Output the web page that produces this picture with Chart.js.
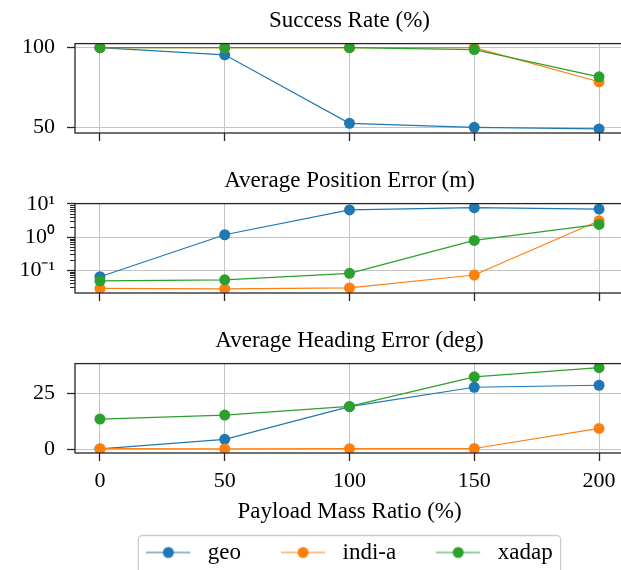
<!DOCTYPE html>
<html>
<head>
<meta charset="utf-8">
<script src="https://cdn.jsdelivr.net/npm/chart.js@4.4.1/dist/chart.umd.min.js"></script>
<style>
  html, body { margin: 0; background: #fff; }
  #wrap { position: relative; width: 621px; height: 570px; overflow: hidden; background: #fff; }
  .panel { position: absolute; left: 0; }
  canvas { display: block; }
</style>
</head>
<body>
<div id="wrap">
  <div class="panel" style="top:0"><canvas id="successChart" width="630" height="145"></canvas></div>
  <div class="panel" style="top:160px"><canvas id="positionChart" width="630" height="145"></canvas></div>
  <div class="panel" style="top:320px"><canvas id="headingChart" width="630" height="254"></canvas></div>
</div>
<script>
// payload mass ratio (%) on the shared x axis
const payloadRatios = [0, 50, 100, 150, 200];
const seriesNames = ["geo", "indi-a", "xadap"];
const seriesColors = ["#1f77b4", "#ff7f0e", "#2ca02c"];

// success rate (%)
const successGeo = [100, 95.5, 52.5, 50, 49];
const successIndi = [100, 100, 100, 100, 78.6];
const successXadap = [100, 100, 100, 98.8, 81.7];

// average position error (m), log axis
const positionGeo = [0.063, 1.17, 6.6, 7.7, 7.0];
const positionIndi = [0.028, 0.027, 0.029, 0.071, 3.1];
const positionXadap = [0.047, 0.051, 0.08, 0.79, 2.4];

// average heading error (deg)
const headingGeo = [0.2, 4.5, 19.2, 27.9, 28.8];
const headingIndi = [0.3, 0.2, 0.3, 0.4, 9.4];
const headingXadap = [13.6, 15.4, 19.3, 32.6, 36.7];

const xTicks = [0, 50, 100, 150, 200];
const successTicks = [50, 100];
const positionTicks = [0.1, 1, 10];
const positionTickLabels = ["10⁻¹", "10⁰", "10¹"];
const positionMinor = [0.01, 0.1, 1].flatMap((d) => [2, 3, 4, 5, 6, 7, 8, 9].map((k) => k * d));
const headingTicks = [0, 25];

const FONT = "'Liberation Serif', 'Times New Roman', serif";
const GRID = "#c4c4c4";
const SPINE = "#262626";

Chart.defaults.font.family = FONT;
Chart.defaults.font.size = 22;
Chart.defaults.color = "#000";

// matplotlib style 5% auto margins
function padRange(values, log) {
  const v = log ? values.map(Math.log10) : values;
  const lo = Math.min(...v);
  const hi = Math.max(...v);
  const m = (hi - lo) * 0.05;
  return log ? [10 ** (lo - m), 10 ** (hi + m)] : [lo - m, hi + m];
}

function makeDatasets(seriesList) {
  return seriesList.map((values, i) => ({
    label: seriesNames[i],
    data: payloadRatios.map((x, j) => ({ x, y: values[j] })),
    borderColor: seriesColors[i],
    backgroundColor: seriesColors[i],
    borderWidth: 1.2,
    pointRadius: 5.5,
    pointBorderWidth: 0,
    pointBackgroundColor: seriesColors[i],
    order: seriesList.length - i,
    tension: 0,
  }));
}

const xRange = padRange(payloadRatios);

function xScale(showLabels) {
  return {
    type: "linear",
    min: xRange[0],
    max: xRange[1],
    afterBuildTicks: (s) => {
      s.ticks = xTicks.map((v) => ({ value: v }));
    },
    afterFit: (s) => {
      s.height = showLabels ? 48 : 12;
    },
    grid: { color: GRID, lineWidth: 1, tickLength: 8, tickColor: SPINE, tickWidth: 1.3 },
    border: { display: false },
    ticks: { display: showLabels, padding: 7, maxRotation: 0, autoSkip: false },
    title: showLabels
      ? {
          display: true,
          text: "Payload Mass Ratio (%)",
          font: { size: 23 },
          padding: { top: 0, bottom: -25 },
        }
      : { display: false },
  };
}

function yScale(type, range, ticks, labels) {
  return {
    type,
    min: range[0],
    max: range[1],
    afterBuildTicks: (s) => {
      s.ticks = ticks.map((v) => ({ value: v }));
    },
    afterFit: (s) => {
      s.width = 75;
      s.paddingTop = 0;
      s.paddingBottom = 0;
    },
    grid: { color: GRID, lineWidth: 1, tickLength: 8, tickColor: SPINE, tickWidth: 1.3 },
    border: { display: false },
    ticks: {
      padding: 12,
      autoSkip: false,
      callback: (v) => (labels ? labels[ticks.indexOf(v)] : String(v)),
    },
  };
}

const framePlugin = {
  id: "frame",
  afterDatasetsDraw(chart) {
    const { ctx, chartArea: a } = chart;
    ctx.save();
    ctx.strokeStyle = SPINE;
    ctx.lineWidth = 1.3;
    ctx.strokeRect(a.left, a.top, a.right - a.left, a.bottom - a.top);
    ctx.restore();
  },
};

const minorTicksPlugin = {
  id: "minorTicks",
  afterDraw(chart) {
    const y = chart.scales.y;
    const { ctx, chartArea } = chart;
    ctx.save();
    ctx.strokeStyle = SPINE;
    ctx.lineWidth = 1;
    positionMinor.forEach((v) => {
      if (v <= y.min || v >= y.max) return;
      const py = Math.round(y.getPixelForValue(v)) + 0.5;
      ctx.beginPath();
      ctx.moveTo(chartArea.left - 5, py);
      ctx.lineTo(chartArea.left, py);
      ctx.stroke();
    });
    ctx.restore();
  },
};

const legendFramePlugin = {
  id: "legendFrame",
  afterDraw(chart) {
    const boxes = chart.legend.legendHitBoxes;
    if (!boxes || !boxes.length) return;
    const first = boxes[0];
    const last = boxes[boxes.length - 1];
    const left = first.left - 8;
    const right = last.left + last.width + 8;
    const top = first.top - 5.5;
    const ctx = chart.ctx;
    ctx.save();
    ctx.strokeStyle = "#cccccc";
    ctx.lineWidth = 1.3;
    ctx.beginPath();
    ctx.roundRect(left, top, right - left, 38, 4);
    ctx.stroke();
    ctx.restore();
  },
};

// line + marker swatches like matplotlib's legend handles
const legendIcons = seriesColors.map((c) => {
  const cv = document.createElement("canvas");
  cv.width = 50;
  cv.height = 14;
  const g = cv.getContext("2d");
  g.strokeStyle = c;
  g.lineWidth = 1.2;
  g.beginPath();
  g.moveTo(0, 7);
  g.lineTo(44, 7);
  g.stroke();
  g.fillStyle = c;
  g.beginPath();
  g.arc(22, 7, 5.5, 0, Math.PI * 2);
  g.fill();
  return cv;
});

function titleOpts(text) {
  return {
    display: true,
    text,
    fullSize: false,
    color: "#000",
    font: { size: 23, weight: "normal" },
    padding: { top: 7, bottom: 9 },
  };
}

function makeChart(id, title, seriesList, y, withLegend, extraPlugins) {
  return new Chart(document.getElementById(id), {
    type: "line",
    data: { datasets: makeDatasets(seriesList) },
    options: {
      responsive: false,
      animation: false,
      devicePixelRatio: 1,
      events: [],
      layout: { padding: { left: 0, right: 6, top: 0, bottom: 0 } },
      scales: { x: xScale(withLegend), y },
      plugins: {
        title: titleOpts(title),
        tooltip: { enabled: false },
        legend: withLegend
          ? {
              display: true,
              position: "bottom",
              fullSize: false,
              labels: {
                usePointStyle: true,
                pointStyleWidth: 50,
                padding: 40,
                color: "#000",
                font: { size: 23 },
                generateLabels: (chart) =>
                  Chart.defaults.plugins.legend.labels
                    .generateLabels(chart)
                    .map((item) => ({ ...item, pointStyle: legendIcons[item.datasetIndex] })),
                sort: (a, b) => a.datasetIndex - b.datasetIndex,
              },
            }
          : { display: false },
      },
    },
    plugins: [framePlugin, ...extraPlugins],
  });
}

makeChart(
  "successChart",
  "Success Rate (%)",
  [successGeo, successIndi, successXadap],
  yScale("linear", padRange([...successGeo, ...successIndi, ...successXadap]), successTicks),
  false,
  []
);

makeChart(
  "positionChart",
  "Average Position Error (m)",
  [positionGeo, positionIndi, positionXadap],
  yScale(
    "logarithmic",
    padRange([...positionGeo, ...positionIndi, ...positionXadap], true),
    positionTicks,
    positionTickLabels
  ),
  false,
  [minorTicksPlugin]
);

makeChart(
  "headingChart",
  "Average Heading Error (deg)",
  [headingGeo, headingIndi, headingXadap],
  yScale("linear", padRange([...headingGeo, ...headingIndi, ...headingXadap]), headingTicks),
  true,
  [legendFramePlugin]
);
</script>
</body>
</html>
